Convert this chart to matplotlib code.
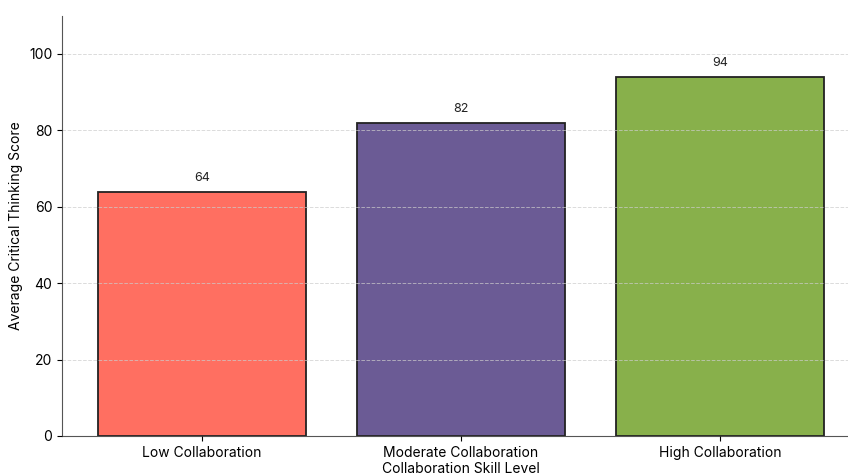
import matplotlib
matplotlib.use("Agg")
import matplotlib.pyplot as plt

# Data
categories = ["Low Collaboration", "Moderate Collaboration", "High Collaboration"]
scores = [64, 82, 94]
colors = ["#FF6F61", "#6B5B95", "#88B04B"]

plt.rcParams['font.family'] = ['Inter', 'DejaVu Sans']

fig = plt.figure(figsize=(8.48, 4.74), dpi=100)
# the original axes runs a little past the right edge of the image
ax = fig.add_axes([0.0731, 0.0802, 798 / 848, 0.8865])

bars = ax.bar(range(len(categories)), scores, width=0.8, color=colors,
              edgecolor="#222222", linewidth=1.3, zorder=2)
for i, v in enumerate(scores):
    ax.text(i, v + 2, f"{v}", ha="center", va="bottom", fontsize=9, color="#222222")

ax.set_xticks(range(len(categories)))
ax.set_xticklabels(categories, fontsize=10)
ax.set_xlim(-0.54, 2.54)
ax.set_ylim(0, 110)
ax.set_yticks([0, 20, 40, 60, 80, 100])
ax.tick_params(axis="y", labelsize=10)
ax.set_xlabel("Collaboration Skill Level", fontsize=10, labelpad=2)
ax.set_ylabel("Average Critical Thinking Score", fontsize=10)

ax.grid(axis="y", linestyle="--", color="#cccccc", alpha=0.7, linewidth=0.7, zorder=3)
ax.set_axisbelow(False)
for s in ["top", "right"]:
    ax.spines[s].set_visible(False)
for s in ["left", "bottom"]:
    ax.spines[s].set_color("#555555")

fig.savefig("out.png", dpi=100)
